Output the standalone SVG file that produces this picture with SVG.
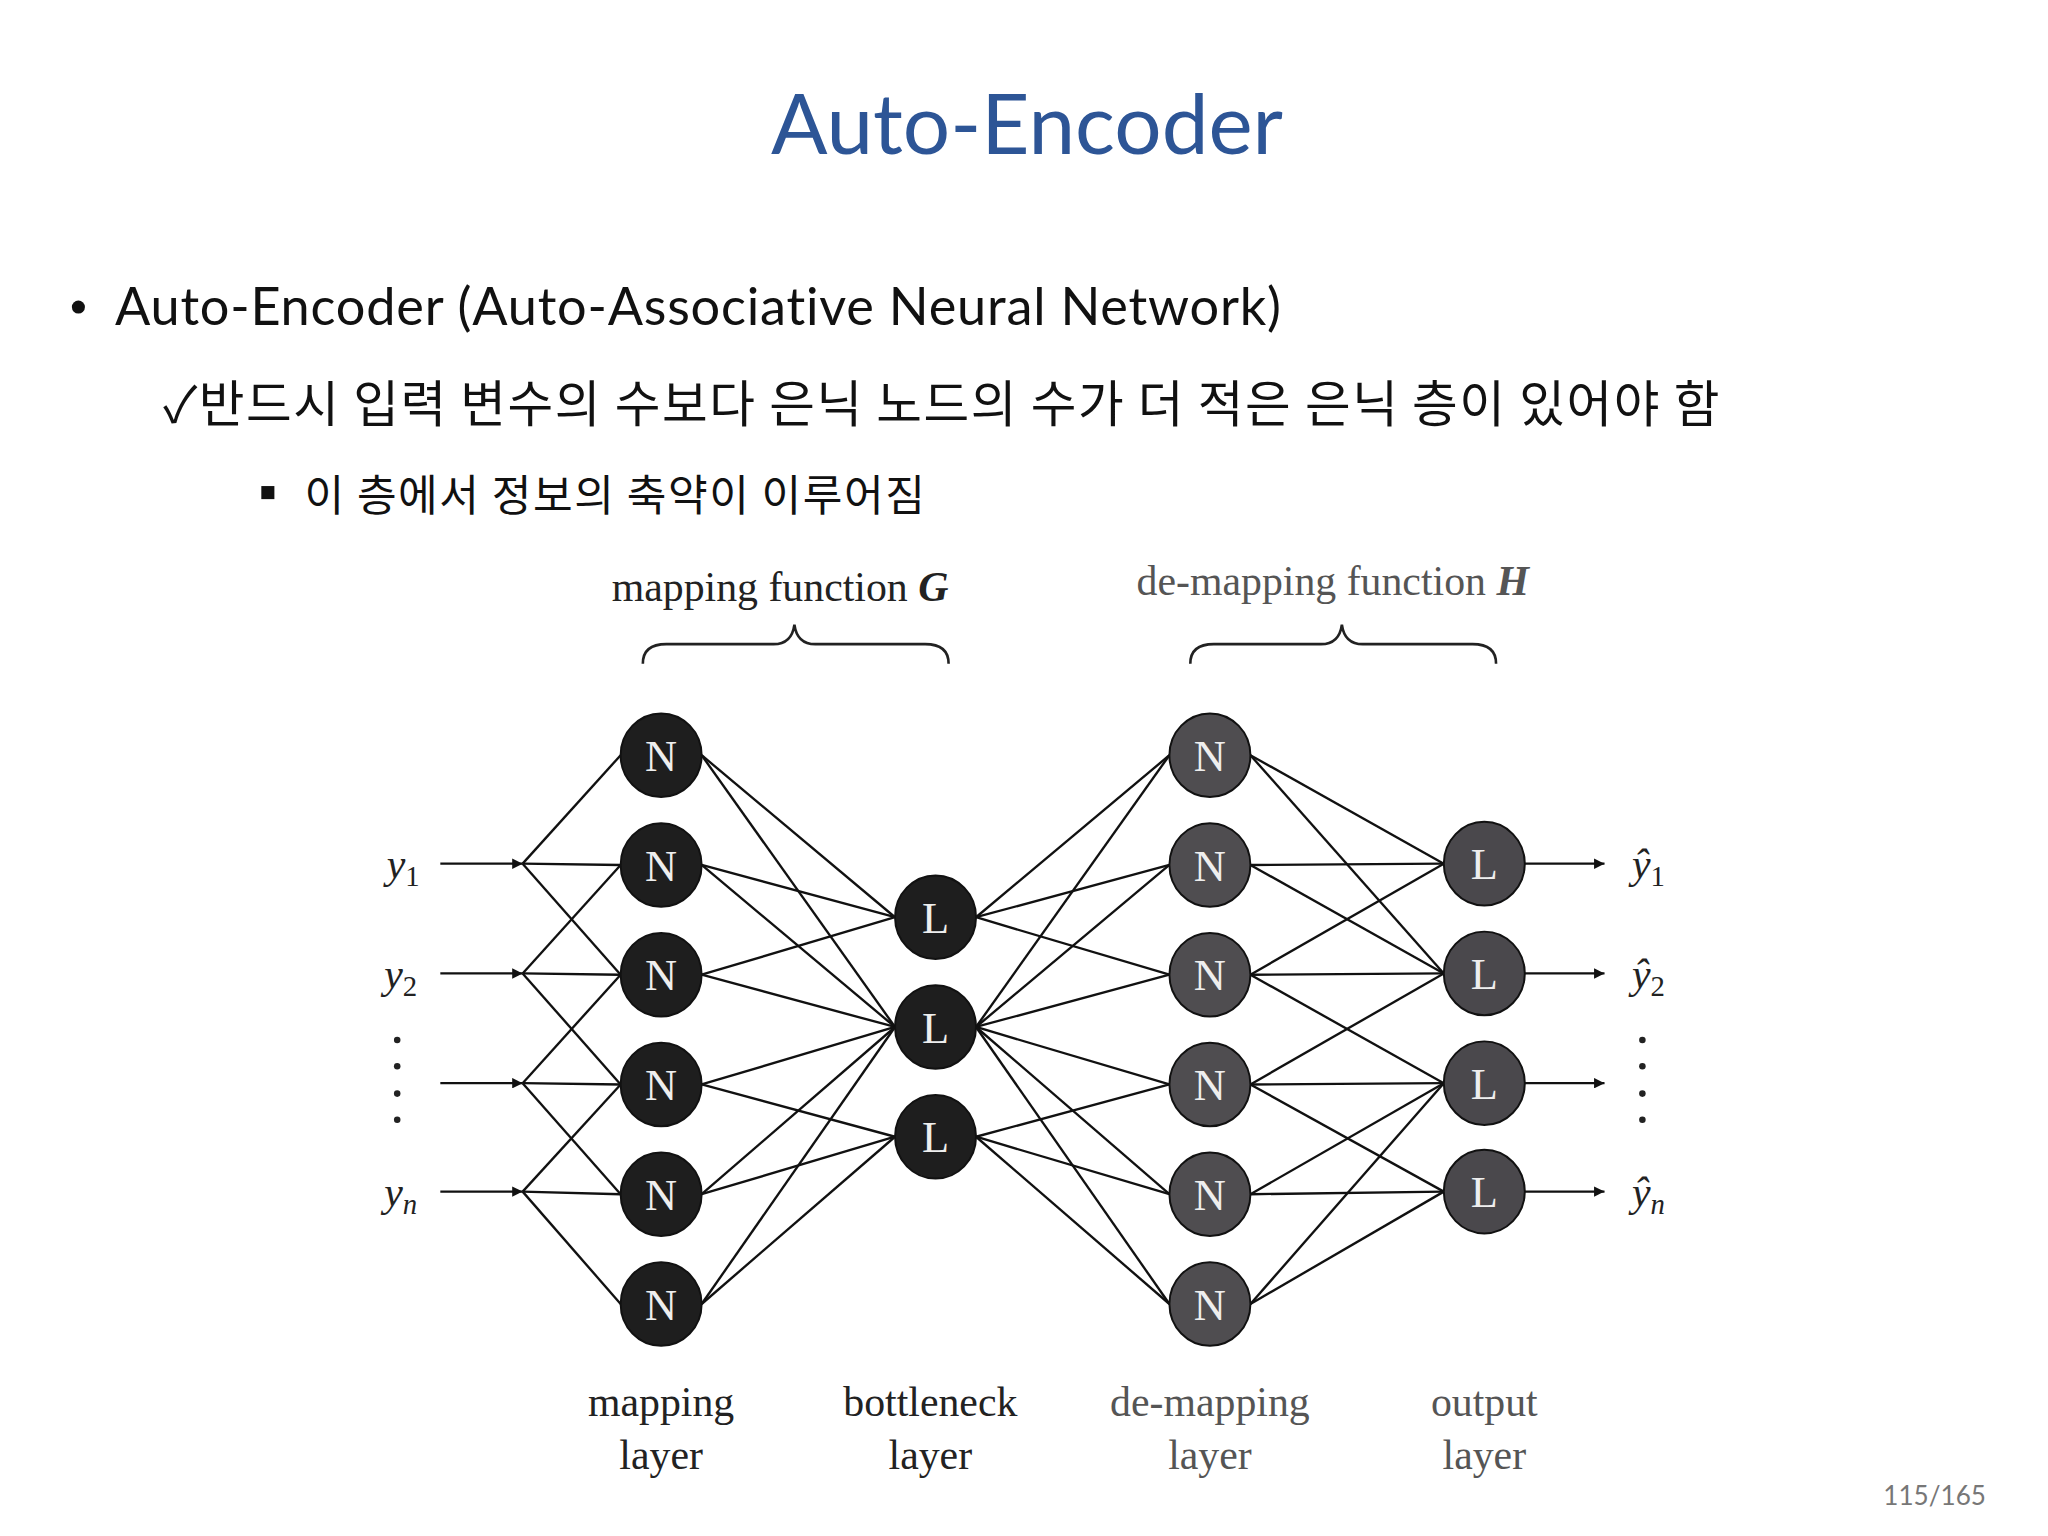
<svg xmlns="http://www.w3.org/2000/svg" width="2048" height="1536" viewBox="0 0 2048 1536">
<defs>
<style>
.t{font-family:Lato,"Open Sans","Noto Sans CJK KR",sans-serif}
.k{font-family:"Noto Sans CJK KR",sans-serif;fill:#111}
.s{font-family:"Liberation Serif",serif;font-size:32px;fill:#222}
.g{fill:#555}
.e line{stroke:#111;stroke-width:1.8}
.nd{font-family:"Liberation Serif",serif;font-size:34px;fill:#eee;text-anchor:middle}
.br{fill:none;stroke:#222;stroke-width:2}
</style>
<marker id="a" viewBox="0 0 10 10" refX="10" refY="5" markerWidth="12" markerHeight="8" markerUnits="userSpaceOnUse" orient="auto"><path d="M0,0L10,5L0,10z" fill="#111"/></marker>
</defs>
<rect width="2048" height="1536" fill="#fff"/>
<g transform="scale(1.3066)">
<text class="t" x="786" y="118" font-size="64" fill="#2d5596" text-anchor="middle">Auto-Encoder</text>
<circle cx="60" cy="235" r="5" fill="#111"/>
<text class="t" x="88" y="249" font-size="40" letter-spacing="0.6" fill="#111">Auto-Encoder (Auto-Associative Neural Network)</text>
<text class="k" x="125" y="323" font-size="38" letter-spacing="1.2">✓반드시 입력 변수의 수보다 은닉 노드의 수가 더 적은 은닉 층이 있어야 함</text>
<rect x="200" y="372" width="10" height="10" fill="#111"/>
<text class="k" x="233" y="391" font-size="33" letter-spacing="1.2">이 층에서 정보의 축약이 이루어짐</text>

<text class="s" x="597" y="460" text-anchor="middle">mapping function <tspan font-weight="bold" font-style="italic">G</tspan></text>
<text class="s g" x="1020" y="455" text-anchor="middle">de-mapping function <tspan font-weight="bold" font-style="italic">H</tspan></text>
<path class="br" d="M492,508 Q492,493 510,493 L592,493 Q606,493 608,478 Q610,493 624,493 L708,493 Q726,493 726,508"/>
<path class="br" d="M911,508 Q911,493 929,493 L1011,493 Q1025,493 1027,478 Q1029,493 1043,493 L1127,493 Q1145,493 1145,508"/>

<g class="s" font-style="italic">
<text x="296" y="672">y<tspan font-style="normal" font-size="22" dy="6">1</tspan></text>
<text x="294" y="756">y<tspan font-style="normal" font-size="22" dy="6">2</tspan></text>
<text x="294" y="923">y<tspan font-style="italic" font-size="22" dy="6">n</tspan></text>
<text x="1249" y="672">ŷ<tspan font-style="normal" font-size="22" dy="6">1</tspan></text>
<text x="1249" y="756">ŷ<tspan font-style="normal" font-size="22" dy="6">2</tspan></text>
<text x="1249" y="923">ŷ<tspan font-style="italic" font-size="22" dy="6">n</tspan></text>
</g>
<g fill="#222"><circle cx="304" cy="796" r="2.5"/><circle cx="304" cy="816" r="2.5"/><circle cx="304" cy="837" r="2.5"/><circle cx="304" cy="857" r="2.5"/>
<circle cx="1257" cy="796" r="2.5"/><circle cx="1257" cy="816" r="2.5"/><circle cx="1257" cy="837" r="2.5"/><circle cx="1257" cy="857" r="2.5"/></g>

<g id="connectors" class="e">
<line x1="337" y1="661" x2="400" y2="661" marker-end="url(#a)"/>
<line x1="337" y1="745" x2="400" y2="745" marker-end="url(#a)"/>
<line x1="337" y1="829" x2="400" y2="829" marker-end="url(#a)"/>
<line x1="337" y1="912" x2="400" y2="912" marker-end="url(#a)"/>
<line x1="1167" y1="661" x2="1228" y2="661" marker-end="url(#a)"/>
<line x1="1167" y1="745" x2="1228" y2="745" marker-end="url(#a)"/>
<line x1="1167" y1="829" x2="1228" y2="829" marker-end="url(#a)"/>
<line x1="1167" y1="912" x2="1228" y2="912" marker-end="url(#a)"/>
<line x1="400" y1="661" x2="475" y2="578"/><line x1="400" y1="661" x2="475" y2="662"/><line x1="400" y1="661" x2="475" y2="746"/>
<line x1="400" y1="745" x2="475" y2="662"/><line x1="400" y1="745" x2="475" y2="746"/><line x1="400" y1="745" x2="475" y2="830"/>
<line x1="400" y1="829" x2="475" y2="746"/><line x1="400" y1="829" x2="475" y2="830"/><line x1="400" y1="829" x2="475" y2="914"/>
<line x1="400" y1="912" x2="475" y2="830"/><line x1="400" y1="912" x2="475" y2="914"/><line x1="400" y1="912" x2="475" y2="998"/>
<line x1="537" y1="578" x2="685" y2="702"/><line x1="537" y1="578" x2="685" y2="786"/>
<line x1="537" y1="662" x2="685" y2="702"/><line x1="537" y1="662" x2="685" y2="786"/>
<line x1="537" y1="746" x2="685" y2="702"/><line x1="537" y1="746" x2="685" y2="786"/>
<line x1="537" y1="830" x2="685" y2="786"/><line x1="537" y1="830" x2="685" y2="870"/>
<line x1="537" y1="914" x2="685" y2="786"/><line x1="537" y1="914" x2="685" y2="870"/>
<line x1="537" y1="998" x2="685" y2="786"/><line x1="537" y1="998" x2="685" y2="870"/>
<line x1="747" y1="702" x2="895" y2="578"/><line x1="747" y1="786" x2="895" y2="578"/>
<line x1="747" y1="702" x2="895" y2="662"/><line x1="747" y1="786" x2="895" y2="662"/>
<line x1="747" y1="702" x2="895" y2="746"/><line x1="747" y1="786" x2="895" y2="746"/>
<line x1="747" y1="786" x2="895" y2="830"/><line x1="747" y1="870" x2="895" y2="830"/>
<line x1="747" y1="786" x2="895" y2="914"/><line x1="747" y1="870" x2="895" y2="914"/>
<line x1="747" y1="786" x2="895" y2="998"/><line x1="747" y1="870" x2="895" y2="998"/>
<line x1="957" y1="578" x2="1105" y2="661"/><line x1="957" y1="578" x2="1105" y2="745"/>
<line x1="957" y1="662" x2="1105" y2="661"/><line x1="957" y1="662" x2="1105" y2="745"/>
<line x1="957" y1="746" x2="1105" y2="661"/><line x1="957" y1="746" x2="1105" y2="745"/><line x1="957" y1="746" x2="1105" y2="829"/>
<line x1="957" y1="830" x2="1105" y2="745"/><line x1="957" y1="830" x2="1105" y2="829"/><line x1="957" y1="830" x2="1105" y2="912"/>
<line x1="957" y1="914" x2="1105" y2="829"/><line x1="957" y1="914" x2="1105" y2="912"/>
<line x1="957" y1="998" x2="1105" y2="829"/><line x1="957" y1="998" x2="1105" y2="912"/>
</g>

<g id="mapping" stroke="#111" stroke-width="1.5" fill="#1e1e1e"><ellipse cx="506" cy="578" rx="31" ry="32"/><ellipse cx="506" cy="662" rx="31" ry="32"/><ellipse cx="506" cy="746" rx="31" ry="32"/><ellipse cx="506" cy="830" rx="31" ry="32"/><ellipse cx="506" cy="914" rx="31" ry="32"/><ellipse cx="506" cy="998" rx="31" ry="32"/></g>
<g id="bottleneck" stroke="#111" stroke-width="1.5" fill="#1e1e1e"><ellipse cx="716" cy="702" rx="31" ry="32"/><ellipse cx="716" cy="786" rx="31" ry="32"/><ellipse cx="716" cy="870" rx="31" ry="32"/></g>
<g id="demapping" stroke="#111" stroke-width="1.5" fill="#4f4d50"><ellipse cx="926" cy="578" rx="31" ry="32"/><ellipse cx="926" cy="662" rx="31" ry="32"/><ellipse cx="926" cy="746" rx="31" ry="32"/><ellipse cx="926" cy="830" rx="31" ry="32"/><ellipse cx="926" cy="914" rx="31" ry="32"/><ellipse cx="926" cy="998" rx="31" ry="32"/></g>
<g id="output" stroke="#111" stroke-width="1.5" fill="#4a484c"><ellipse cx="1136" cy="661" rx="31" ry="32"/><ellipse cx="1136" cy="745" rx="31" ry="32"/><ellipse cx="1136" cy="829" rx="31" ry="32"/><ellipse cx="1136" cy="912" rx="31" ry="32"/></g>
<g id="labels" class="nd">
<text x="506" y="590">N</text><text x="506" y="674">N</text><text x="506" y="758">N</text><text x="506" y="842">N</text><text x="506" y="926">N</text><text x="506" y="1010">N</text>
<text x="716" y="714">L</text><text x="716" y="798">L</text><text x="716" y="882">L</text>
<text x="926" y="590">N</text><text x="926" y="674">N</text><text x="926" y="758">N</text><text x="926" y="842">N</text><text x="926" y="926">N</text><text x="926" y="1010">N</text>
<text x="1136" y="673">L</text><text x="1136" y="757">L</text><text x="1136" y="841">L</text><text x="1136" y="924">L</text>
</g>

<g class="s" text-anchor="middle">
<text x="506" y="1084">mapping</text><text x="506" y="1124">layer</text>
<text x="712" y="1084">bottleneck</text><text x="712" y="1124">layer</text>
<text class="s g" x="926" y="1084">de-mapping</text><text class="s g" x="926" y="1124">layer</text>
<text class="s g" x="1136" y="1084">output</text><text class="s g" x="1136" y="1124">layer</text>
</g>
<text class="t" x="1520" y="1152" font-size="20" fill="#777" text-anchor="end">115/165</text>
</g>
</svg>
